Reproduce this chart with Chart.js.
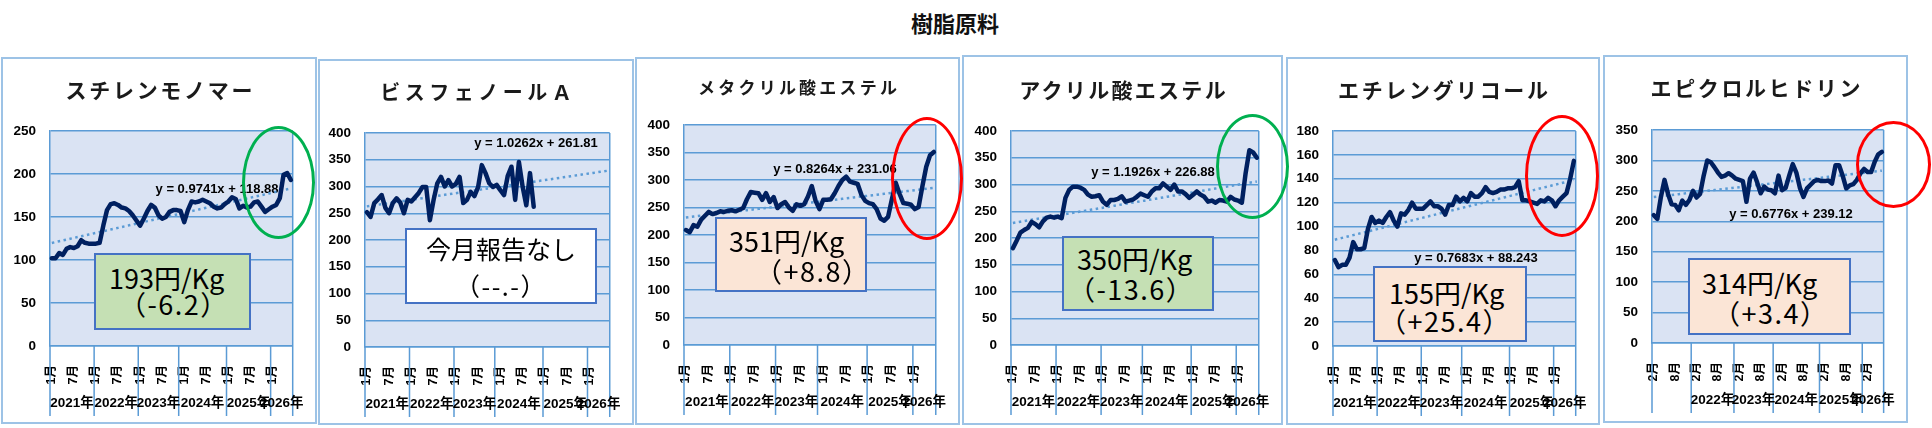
<!DOCTYPE html>
<html>
<head>
<meta charset="utf-8">
<script src="https://cdn.jsdelivr.net/npm/chart.js@4.4.1/dist/chart.umd.min.js"></script>
<style>
html, body { margin: 0; padding: 0; background: #fff; width: 1932px; height: 428px; overflow: hidden; font-family: "Noto Sans CJK JP", sans-serif; }
#main { position: absolute; left: 0; top: 8px; width: 1910px; text-align: center; font-weight: bold; font-size: 22px; line-height: 28px; color: #111; }
.panel { position: absolute; box-sizing: border-box; border: 2px solid #9DC3E6; background: #fff; }
canvas { position: absolute; }
.ptitle { position: absolute; text-align: center; font-weight: bold; color: #1a1a1a; white-space: nowrap; }
.note { position: absolute; box-sizing: border-box; border: 2px solid #4472C4; }
.nline { position: absolute; white-space: nowrap; color: #000; }
.ring { position: absolute; box-sizing: border-box; border-radius: 50%; border: 3.5px solid; }
</style>
</head>
<body>
<div id="main">樹脂原料</div>
<script>
// 月ラベル（2023年は11か月、2024年は13か月で登録されている）
const monthsJan = ('1月 2月 3月 4月 5月 6月 7月 8月 9月 10月 11月 12月 ' +
    '1月 2月 3月 4月 5月 6月 7月 8月 9月 10月 11月 12月 ' +
    '1月 2月 3月 4月 5月 6月 7月 8月 9月 10月 11月 ' +
    '12月 1月 2月 3月 4月 5月 6月 7月 8月 9月 10月 11月 12月 ' +
    '1月 2月 3月 4月 5月 6月 7月 8月 9月 10月 11月 12月 ' +
    '1月 2月 3月 4月 5月 6月').split(' ');
const yearsJan = ['2021年', '2022年', '2023年', '2024年', '2025年', '2026年'];
const yearSizesJan = [12, 12, 11, 13, 12, 6];

const monthsFeb = ('2月 3月 4月 5月 6月 7月 8月 9月 10月 11月 12月 ' +
    '1月 2月 3月 4月 5月 6月 7月 8月 9月 10月 11月 12月 ' +
    '1月 2月 3月 4月 5月 6月 7月 8月 9月 10月 11月 ' +
    '12月 1月 2月 3月 4月 5月 6月 7月 8月 9月 10月 11月 12月 ' +
    '1月 2月 3月 4月 5月 6月 7月 8月 9月 10月 11月 12月 ' +
    '1月 2月 3月 4月 5月 6月').split(' ');
const yearsFeb = ['', '2022年', '2023年', '2024年', '2025年', '2026年'];
const yearSizesFeb = [11, 12, 11, 13, 12, 6];

// 価格推移 (円/Kg)
const styrene = [102, 102, 108, 106, 113, 115, 114, 116, 123, 120, 119, 119, 119, 120, 140, 158, 165, 166, 164, 161,
    160, 157, 152, 146, 140, 148, 157, 164, 161, 152, 148, 150, 156, 158, 158, 157, 144, 158, 168, 167,
    168, 170, 168, 166, 162, 160, 161, 165, 168, 173, 171, 160, 163, 161, 162, 167, 168, 162, 156, 159,
    162, 164, 172, 199, 201, 193];
const bisphenolA = [252, 243, 269, 276, 284, 260, 250, 269, 278, 270, 250, 275, 272, 280, 288, 299, 299, 237, 275, 306,
    318, 300, 312, 300, 305, 318, 269, 275, 290, 282, 299, 340, 325, 306, 299, 303, 293, 284, 320, 337,
    275, 346, 300, 265, 325, 262];
const methacrylate = [209, 205, 218, 215, 228, 235, 242, 238, 240, 243, 242, 244, 245, 243, 246, 249, 265, 278, 277, 276,
    264, 276, 260, 269, 249, 256, 260, 250, 244, 256, 253, 256, 270, 289, 262, 247, 264, 264, 265, 276,
    289, 300, 306, 297, 295, 293, 273, 262, 258, 256, 247, 230, 226, 233, 265, 295, 275, 258, 257, 255,
    247, 251, 289, 324, 345, 351];
const acrylate = [181, 195, 210, 215, 219, 230, 226, 220, 231, 238, 240, 238, 240, 237, 275, 290, 296, 296, 294, 290,
    281, 277, 278, 280, 268, 262, 271, 271, 273, 278, 268, 270, 272, 277, 283, 280, 277, 287, 293, 293,
    302, 296, 290, 300, 287, 287, 282, 275, 281, 287, 281, 277, 268, 270, 266, 271, 270, 268, 277, 272,
    270, 266, 321, 364, 360, 350];
const glycol = [72, 66, 68, 68, 74, 87, 81, 81, 82, 98, 108, 103, 105, 103, 108, 112, 105, 100, 111, 110,
    114, 120, 115, 115, 115, 118, 121, 117, 117, 115, 110, 118, 118, 125, 121, 124, 121, 128, 125, 125,
    128, 133, 129, 128, 129, 131, 131, 132, 132, 133, 138, 122, 122, 121, 120, 119, 122, 121, 124, 122,
    117, 122, 125, 128, 140, 155];
const epichloro = [210, 204, 240, 268, 245, 228, 227, 218, 234, 227, 235, 250, 239, 245, 275, 300, 297, 289, 280, 273,
    275, 279, 275, 270, 268, 266, 232, 270, 280, 264, 246, 257, 252, 251, 246, 275, 251, 255, 275, 294,
    280, 255, 240, 254, 260, 266, 268, 266, 266, 267, 262, 292, 292, 275, 254, 259, 261, 268, 279, 286,
    281, 281, 298, 310, 314];

// 近似直線 y = a x + b
const trendCoefs = [[0.9741, 118.88], [1.0262, 261.81], [0.8264, 231.06], [1.1926, 226.88], [0.7683, 88.243], [0.6776, 239.12]];
const titles = ['スチレンモノマー', 'ビスフェノールＡ', 'メタクリル酸エステル', 'アクリル酸エステル', 'エチレングリコール', 'エピクロルヒドリン'];
const notePrices = ['193円/Kg', '今月報告なし', '351円/Kg', '350円/Kg', '155円/Kg', '314円/Kg'];
const noteChanges = ['（-6.2）', '（--.-）', '（+8.8）', '（-13.6）', '（+25.4）', '（+3.4）'];

const GREEN = '#C5E0B4', PEACH = '#FBE5D6';
const panels = [
    { box: [1, 57, 316, 367], plot: [50, 131, 299, 346], max: 250, step: 50, data: styrene,
      months: monthsJan, years: yearsJan, sizes: yearSizesJan, tFont: 21, tSpace: 2.7, tY: 90, eq: [217, 189],
      note: { rect: [94, 253, 157, 77], bg: GREEN, size: 27, l1: [109, 277], l2: [119, 303] },
      ring: [278.5, 182.5, 36.5, 56.5, '#00B050'] },
    { box: [318, 59, 316, 366], plot: [365, 133, 619, 347], max: 400, step: 50, data: bisphenolA,
      months: monthsJan, years: yearsJan, sizes: yearSizesJan, tFont: 20, tSpace: 4.5, tY: 92, eq: [536, 143],
      note: { rect: [405, 228, 192, 76], bg: '#fff', size: 25, center: true, l1: [501, 248], l2: [501, 285] } },
    { box: [635, 57, 325, 368], plot: [684, 125, 942, 345], max: 400, step: 50, data: methacrylate,
      months: monthsJan, years: yearsJan, sizes: yearSizesJan, tFont: 17, tSpace: 3.2, tY: 87, eq: [835, 169],
      note: { rect: [715, 217, 152, 75], bg: PEACH, size: 27, l1: [729, 240], l2: [755, 270] },
      ring: [927, 178.5, 36, 61.5, '#FF0000'] },
    { box: [962, 55, 321, 370], plot: [1011, 131, 1266, 345], max: 400, step: 50, data: acrylate,
      months: monthsJan, years: yearsJan, sizes: yearSizesJan, tFont: 21, tSpace: 2.3, tY: 90, eq: [1153, 172],
      note: { rect: [1062, 236, 152, 75], bg: GREEN, size: 27, l1: [1077, 258], l2: [1068, 288] },
      ring: [1252.5, 166.5, 36.5, 52.5, '#00B050'] },
    { box: [1286, 57, 314, 368], plot: [1333, 131, 1583, 346], max: 180, step: 20, data: glycol,
      months: monthsJan, years: yearsJan, sizes: yearSizesJan, tFont: 21, tSpace: 2.6, tY: 90, eq: [1476, 258],
      note: { rect: [1373, 266, 154, 76], bg: PEACH, size: 27, l1: [1389, 292], l2: [1379, 320] },
      ring: [1562, 176, 37, 61, '#FF0000'] },
    { box: [1603, 55, 305, 368], plot: [1652, 130, 1889, 343], max: 350, step: 50, data: epichloro,
      months: monthsFeb, years: yearsFeb, sizes: yearSizesFeb, tFont: 21, tSpace: 2.6, tY: 88, eq: [1791, 214],
      note: { rect: [1688, 258, 163, 77], bg: PEACH, size: 27, l1: [1702, 282], l2: [1713, 312] },
      ring: [1893.5, 164.5, 37.5, 43.5, '#FF0000'] }
];

const GRID = '#5B9BD5';
const TICK_FONT = "'Liberation Sans', 'Noto Sans CJK JP', sans-serif";

function trendLine(coef, n) {
    const out = [];
    for (let i = 1; i <= n; i++) out.push(coef[0] * i + coef[1]);
    return out;
}

// 描画エリアの背景・右枠・年区切り・近似式
const deco = {
    id: 'deco',
    beforeDraw(chart) {
        const a = chart.chartArea, ctx = chart.ctx;
        ctx.save();
        ctx.fillStyle = '#DAE3F3';
        ctx.fillRect(a.left, a.top, a.right - a.left, a.bottom - a.top);
        ctx.restore();
    },
    beforeDatasetsDraw(chart, args, o) {
        const a = chart.chartArea, ctx = chart.ctx, xs = chart.scales.x;
        ctx.save();
        ctx.strokeStyle = GRID;
        ctx.lineWidth = 1.5;
        ctx.beginPath();
        ctx.moveTo(a.right, a.top);
        ctx.lineTo(a.right, a.bottom);
        ctx.stroke();

        let cum = 0;
        const edges = [a.left];
        o.sizes.forEach((s, k) => {
            cum += s;
            edges.push(k === o.sizes.length - 1 ? a.right : (xs.getPixelForValue(cum - 1) + xs.getPixelForValue(cum)) / 2);
        });
        ctx.beginPath();
        edges.forEach(px => { ctx.moveTo(px, a.bottom); ctx.lineTo(px, a.bottom + 70); });
        ctx.stroke();

        ctx.fillStyle = '#000';
        ctx.font = "bold 13.5px " + TICK_FONT;
        ctx.textAlign = 'center';
        ctx.textBaseline = 'middle';
        o.years.forEach((y, k) => ctx.fillText(y, (edges[k] + edges[k + 1]) / 2, a.bottom + 57));

        ctx.font = "bold 13px " + TICK_FONT;
        ctx.fillText(o.eqText, o.eq[0] - o.origin[0], o.eq[1] - o.origin[1]);
        ctx.restore();
    }
};

panels.forEach((p, n) => {
    const [bx, by, bw, bh] = p.box;
    const [pl, pt, pr, pb] = p.plot;

    const frame = document.createElement('div');
    frame.className = 'panel';
    Object.assign(frame.style, { left: bx + 'px', top: by + 'px', width: bw + 'px', height: bh + 'px' });
    document.body.appendChild(frame);

    const cv = document.createElement('canvas');
    cv.width = bw; cv.height = bh;
    Object.assign(cv.style, { left: bx + 'px', top: by + 'px', width: bw + 'px', height: bh + 'px' });
    document.body.appendChild(cv);

    const title = document.createElement('div');
    title.className = 'ptitle';
    title.textContent = titles[n];
    Object.assign(title.style, {
        left: bx + 'px', width: bw + 'px', top: (p.tY - p.tFont * 0.7) + 'px',
        fontSize: p.tFont + 'px', lineHeight: (p.tFont * 1.4) + 'px',
        letterSpacing: p.tSpace + 'px', textIndent: p.tSpace + 'px'
    });
    document.body.appendChild(title);

    const coef = trendCoefs[n];
    const n0 = p.months.length;

    new Chart(cv, {
        type: 'line',
        data: {
            labels: p.months,
            datasets: [
                {
                    data: p.data,
                    borderColor: '#002060',
                    borderWidth: 4.5,
                    pointRadius: 0,
                    tension: 0,
                    borderJoinStyle: 'round',
                    borderCapStyle: 'round'
                },
                {
                    data: trendLine(coef, n0),
                    borderColor: '#5B9BD5',
                    borderWidth: 2.5,
                    borderDash: [2.5, 3.5],
                    pointRadius: 0
                }
            ]
        },
        options: {
            responsive: false,
            animation: false,
            layout: { padding: { left: 0, top: pt - by, right: bx + bw - pr, bottom: 0 } },
            plugins: {
                legend: { display: false },
                tooltip: { enabled: false },
                deco: {
                    sizes: p.sizes,
                    years: p.years,
                    eq: p.eq,
                    origin: [bx, by],
                    eqText: 'y = ' + coef[0] + 'x + ' + coef[1]
                }
            },
            scales: {
                x: {
                    offset: true,
                    grid: { display: false },
                    border: { display: true, color: GRID, width: 1.5 },
                    ticks: {
                        autoSkip: false,
                        maxRotation: 90,
                        minRotation: 90,
                        padding: 11,
                        color: '#000',
                        font: { family: TICK_FONT, size: 12.5, weight: 'bold' },
                        callback: function(value, index) {
                            return index % 6 === 0 ? this.getLabelForValue(value) : '';
                        }
                    },
                    afterFit: s => { s.height = by + bh - pb; }
                },
                y: {
                    min: 0,
                    max: p.max,
                    grid: { color: GRID, lineWidth: 1.5, drawTicks: false },
                    border: { display: true, color: GRID, width: 1.5 },
                    ticks: {
                        stepSize: p.step,
                        padding: 14,
                        color: '#000',
                        font: { family: TICK_FONT, size: 13.5, weight: 'bold' }
                    },
                    afterFit: s => { s.width = pl - bx; }
                }
            }
        },
        plugins: [deco]
    });
});

// 価格ボックス
panels.forEach((p, n) => {
    const nt = p.note;
    const [nx, ny, nw, nh] = nt.rect;
    const box = document.createElement('div');
    box.className = 'note';
    Object.assign(box.style, { left: nx + 'px', top: ny + 'px', width: nw + 'px', height: nh + 'px', background: nt.bg });
    document.body.appendChild(box);

    [[notePrices[n], nt.l1, 0], [noteChanges[n], nt.l2, 1.5]].forEach(([txt, pos, sp]) => {
        const d = document.createElement('div');
        d.className = 'nline';
        d.textContent = txt;
        const lh = nt.size;
        Object.assign(d.style, { fontSize: nt.size + 'px', lineHeight: lh + 'px', top: (pos[1] - lh / 2) + 'px', letterSpacing: sp + 'px' });
        if (nt.center) {
            Object.assign(d.style, { left: (pos[0] - 150) + 'px', width: '300px', textAlign: 'center' });
        } else {
            d.style.left = pos[0] + 'px';
        }
        document.body.appendChild(d);
    });
});

// 注目の楕円
panels.forEach(p => {
    if (!p.ring) return;
    const [cx, cy, rx, ry, col] = p.ring;
    const r = document.createElement('div');
    r.className = 'ring';
    Object.assign(r.style, { left: (cx - rx) + 'px', top: (cy - ry) + 'px', width: (2 * rx) + 'px', height: (2 * ry) + 'px', borderColor: col });
    document.body.appendChild(r);
});
</script>
</body>
</html>
